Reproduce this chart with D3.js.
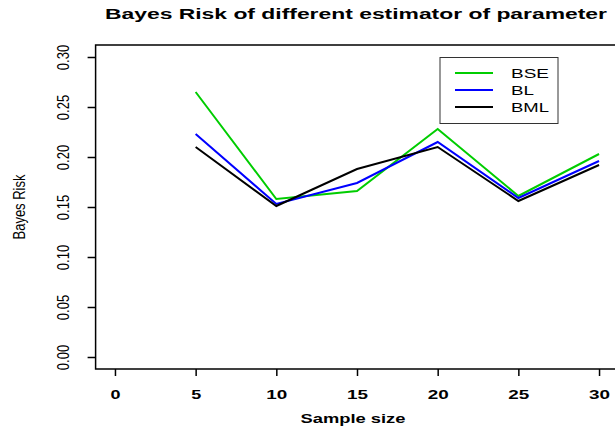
<!DOCTYPE html>
<meta charset="utf-8">
<style>
  body { margin: 0; background: #fff; }
  text { font-family: "Liberation Sans", Arial, sans-serif; }
</style>
<script src="https://d3js.org/d3.v7.min.js"></script>
<body>
<div id="chart"></div>
</body>
<script>
// data
var sampleSizes = [5, 10, 15, 20, 25, 30];
var bse = [0.265, 0.158, 0.166, 0.228, 0.161, 0.203];
var bl  = [0.223, 0.153, 0.174, 0.215, 0.159, 0.196];
var bml = [0.210, 0.151, 0.188, 0.210, 0.156, 0.192];
var seriesNames = ["BSE", "BL", "BML"];
var seriesColors = ["#00cd00", "#0000ff", "#000000"];
var xTicks = [0, 5, 10, 15, 20, 25, 30];
var yTicks = [0, 0.05, 0.10, 0.15, 0.20, 0.25, 0.30];

var W = 615, H = 442;
var plot = {left: 95.6, right: 618.4, top: 45, bottom: 369};

var svg = d3.select("#chart")
  .append("svg")
    .attr("width", W)
    .attr("height", H);

// R style: data range padded by 4% on each side
var x = d3.scaleLinear()
  .domain([-1.2, 31.2])
  .range([plot.left, plot.right]);
var y = d3.scaleLinear()
  .domain([-0.012, 0.312])
  .range([plot.bottom, plot.top]);

// title
svg.append("text")
  .attr("x", (plot.left + plot.right) / 2 - 1)
  .attr("y", 18.5)
  .attr("text-anchor", "middle")
  .style("font-size", "14px")
  .style("font-weight", "bold")
  .attr("textLength", 502)
  .attr("lengthAdjust", "spacingAndGlyphs")
  .text("Bayes Risk of different estimator of parameter");

// X axis
var xAxis = svg.append("g")
  .attr("transform", "translate(0," + plot.bottom + ")")
  .call(d3.axisBottom(x).tickValues(xTicks).tickSize(7).tickPadding(0)
    .tickFormat(d3.format("d")));
xAxis.select(".domain").remove();
xAxis.selectAll("line").attr("stroke", "#000").attr("stroke-width", 1.5);
xAxis.selectAll("text")
  .attr("y", 30).attr("dy", null)
  .style("font-size", "13px")
  .style("font-weight", "bold")
  .attr("fill", "#000")
  .attr("font-family", null)
  .attr("textLength", function(d) { return String(d).length > 1 ? 21 : 10; })
  .attr("lengthAdjust", "spacingAndGlyphs");

// Y axis (labels parallel to the axis, widened like the rest of the picture)
var yAxis = svg.append("g")
  .attr("transform", "translate(" + plot.left + ",0)")
  .call(d3.axisLeft(y).tickValues(yTicks).tickSize(8)
    .tickFormat(d3.format(".2f")));
yAxis.select(".domain").remove();
yAxis.selectAll("line").attr("stroke", "#000").attr("stroke-width", 1.5);
yAxis.selectAll("text")
  .attr("x", null).attr("dy", null)
  .attr("text-anchor", "middle")
  .attr("transform", "translate(-26.6,0) scale(1.3,1) rotate(-90)")
  .attr("fill", "#000")
  .attr("font-family", null)
  .style("font-size", "13px");

// plot box
svg.append("rect")
  .attr("x", plot.left)
  .attr("y", plot.top)
  .attr("width", plot.right - plot.left)
  .attr("height", plot.bottom - plot.top)
  .attr("fill", "none")
  .attr("stroke", "#000")
  .attr("stroke-width", 1.5);

// axis titles
svg.append("text")
  .attr("x", (plot.left + plot.right) / 2 - 4)
  .attr("y", 423)
  .attr("text-anchor", "middle")
  .style("font-size", "13px")
  .style("font-weight", "bold")
  .attr("textLength", 105)
  .attr("lengthAdjust", "spacingAndGlyphs")
  .text("Sample size");

svg.append("text")
  .attr("transform", "translate(25," + ((plot.top + plot.bottom) / 2) + ") scale(1.3,1) rotate(-90)")
  .attr("text-anchor", "middle")
  .style("font-size", "13px")
  .text("Bayes Risk");

// lines
var series = [bse, bl, bml];
var line = d3.line()
  .x(function(d, i) { return x(sampleSizes[i]); })
  .y(function(d) { return y(d); });

svg.selectAll(".series")
  .data(series)
  .enter()
  .append("path")
    .attr("class", "series")
    .attr("d", line)
    .attr("fill", "none")
    .attr("stroke", function(d, i) { return seriesColors[i]; })
    .attr("stroke-width", 2);

// legend
var legend = svg.append("g");
legend.append("rect")
  .attr("x", 440).attr("y", 57.5)
  .attr("width", 118).attr("height", 66)
  .attr("fill", "#fff")
  .attr("stroke", "#333")
  .attr("stroke-width", 1);

var legendY = [73, 90, 107];
var items = legend.selectAll(".item")
  .data(seriesNames)
  .enter()
  .append("g")
    .attr("class", "item")
    .attr("transform", function(d, i) { return "translate(0," + legendY[i] + ")"; });
items.append("line")
  .attr("x1", 455).attr("x2", 493)
  .attr("stroke", function(d, i) { return seriesColors[i]; })
  .attr("stroke-width", 2);
items.append("text")
  .attr("x", 511)
  .attr("y", 4.5)
  .style("font-size", "12px")
  .attr("textLength", function(d) { return d === "BL" ? 23 : 38; })
  .attr("lengthAdjust", "spacingAndGlyphs")
  .text(function(d) { return d; });
</script>
</html>
